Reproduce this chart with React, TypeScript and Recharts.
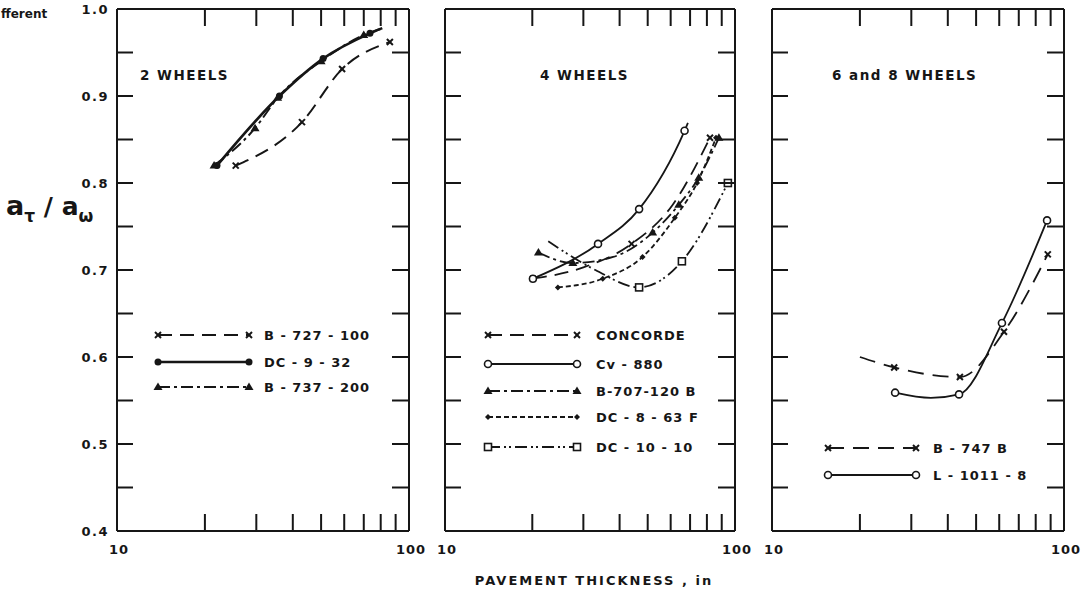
import { LineChart, Line, XAxis, YAxis } from "recharts";

const FONT = "'DejaVu Sans', Verdana, sans-serif";
const INK = "#161616";

const xTicks = [10, 20, 30, 40, 50, 60, 70, 80, 90, 100];
const yTicks = [0.4, 0.45, 0.5, 0.55, 0.6, 0.65, 0.7, 0.75, 0.8, 0.85, 0.9, 0.95, 1.0];

// 2 wheels
const b727X = [25.5, 43, 59, 86];
const b727Y = [0.82, 0.87, 0.931, 0.962];
const dc9X = [22, 36, 50.8, 73.5, 81];
const dc9Y = [0.82, 0.9, 0.943, 0.972, 0.978];
const b737X = [21.5, 29.7, 35.5, 50, 70, 80];
const b737Y = [0.82, 0.863, 0.898, 0.94, 0.97, 0.977];

// 4 wheels
const concX = [20.1, 30, 44, 61, 82];
const concY = [0.69, 0.703, 0.73, 0.775, 0.852];
const cv880X = [20.1, 33.7, 46.7, 67, 68.8];
const cv880Y = [0.69, 0.73, 0.77, 0.86, 0.869];
const b707X = [21, 27.6, 38, 52, 64, 75, 88];
const b707Y = [0.72, 0.708, 0.715, 0.743, 0.775, 0.806, 0.852];
const dc8X = [24.5, 35, 48, 62, 74, 86];
const dc8Y = [0.68, 0.69, 0.715, 0.76, 0.8, 0.852];
const dc10X = [22.7, 33, 46.7, 65.6, 94.5];
const dc10Y = [0.733, 0.7, 0.68, 0.71, 0.8];

// 6 and 8 wheels
const b747X = [20, 26.2, 44, 62.3, 88];
const b747Y = [0.6, 0.588, 0.577, 0.629, 0.718];
const l1011X = [26.4, 35, 43.7, 61.3, 87.5];
const l1011Y = [0.559, 0.553, 0.557, 0.639, 0.757];

const zip = (xs: number[], ys: number[], hide: number[] = []) =>
  xs.map((x, i) => ({ x, y: ys[i], m: !hide.includes(i) }));

type Mark = "x" | "dot" | "ocircle" | "tri" | "plus" | "osq";

function drawMark(kind: Mark, cx: number, cy: number, key?: any) {
  switch (kind) {
    case "x":
      return (
        <g key={key} stroke={INK} strokeWidth={2}>
          <line x1={cx - 3} y1={cy - 3} x2={cx + 3} y2={cy + 3} />
          <line x1={cx - 3} y1={cy + 3} x2={cx + 3} y2={cy - 3} />
        </g>
      );
    case "dot":
      return <circle key={key} cx={cx} cy={cy} r={3.5} fill={INK} />;
    case "ocircle":
      return <circle key={key} cx={cx} cy={cy} r={3.5} fill="#fff" stroke={INK} strokeWidth={1.6} />;
    case "tri":
      return <path key={key} d={`M${cx},${cy - 4.5}L${cx + 4.5},${cy + 3}L${cx - 4.5},${cy + 3}Z`} fill={INK} />;
    case "plus":
      return <path key={key} d={`M${cx},${cy - 3}L${cx + 3},${cy}L${cx},${cy + 3}L${cx - 3},${cy}Z`} fill={INK} />;
    case "osq":
      return <rect key={key} x={cx - 3.5} y={cy - 3.5} width={7} height={7} fill="#fff" stroke={INK} strokeWidth={1.6} />;
  }
}

type Series = { name: string; data: { x: number; y: number; m: boolean }[]; dash?: string; w: number; mark: Mark };

const panel1: Series[] = [
  { name: "B - 727 - 100", data: zip(b727X, b727Y), dash: "14 8", w: 2, mark: "x" },
  { name: "DC - 9 - 32", data: zip(dc9X, dc9Y, [4]), w: 2.6, mark: "dot" },
  { name: "B - 737 - 200", data: zip(b737X, b737Y, [5]), dash: "12 4 3 4", w: 2, mark: "tri" },
];

const panel2: Series[] = [
  { name: "CONCORDE", data: zip(concX, concY, [1, 3]), dash: "14 8", w: 1.8, mark: "x" },
  { name: "Cv - 880", data: zip(cv880X, cv880Y, [4]), w: 1.8, mark: "ocircle" },
  { name: "B-707-120 B", data: zip(b707X, b707Y, [2]), dash: "12 4 3 4", w: 1.8, mark: "tri" },
  { name: "DC - 8 - 63 F", data: zip(dc8X, dc8Y), dash: "5 3", w: 1.8, mark: "plus" },
  { name: "DC - 10 - 10", data: zip(dc10X, dc10Y, [0, 1]), dash: "12 4 2 3 2 4", w: 1.8, mark: "osq" },
];

const panel3: Series[] = [
  { name: "B - 747 B", data: zip(b747X, b747Y, [0]), dash: "16 9", w: 1.8, mark: "x" },
  { name: "L - 1011 - 8", data: zip(l1011X, l1011Y, [1]), w: 1.8, mark: "ocircle" },
];

const labelStyle = { fontFamily: FONT, fontWeight: 700, fill: INK } as const;

const BottomTick = (p: any) => {
  const v = p.payload.value;
  if (v === 10 || v === 100)
    return (
      <text x={p.x + 2} y={p.y + 23} textAnchor="middle" fontSize={13} letterSpacing={1} {...labelStyle}>
        {v}
      </text>
    );
  return <line x1={p.x} x2={p.x} y1={p.y} y2={p.y - 17} stroke={INK} strokeWidth={2} />;
};

const TopTick = (p: any) => {
  const v = p.payload.value;
  if (v === 10 || v === 100) return <g />;
  return <line x1={p.x} x2={p.x} y1={p.y} y2={p.y + 17} stroke={INK} strokeWidth={2} />;
};

const makeLeftTick = (labels: boolean) => (p: any) => {
  const v = p.payload.value;
  const major = Math.round(v * 100) % 10 === 0;
  const edge = v === 0.4 || v === 1.0;
  return (
    <g>
      {!edge && <line x1={p.x} x2={p.x + 16} y1={p.y} y2={p.y} stroke={INK} strokeWidth={2} />}
      {labels && major && (
        <text x={p.x - 8} y={p.y + 5} textAnchor="end" fontSize={13} letterSpacing={1.5} {...labelStyle}>
          {v.toFixed(1)}
        </text>
      )}
    </g>
  );
};

const RightTick = (p: any) => {
  const v = p.payload.value;
  if (v === 0.4 || v === 1.0) return <g />;
  return <line x1={p.x} x2={p.x - 17} y1={p.y} y2={p.y} stroke={INK} strokeWidth={2} />;
};

const frame = { stroke: INK, strokeWidth: 2 };

function Panel({ left, width, yw, mr, series, labels }: { left: number; width: number; yw: number; mr: number; series: Series[]; labels: boolean }) {
  return (
    <div style={{ position: "absolute", left, top: 0 }}>
      <LineChart width={width} height={560} margin={{ top: 8, right: mr - 1, bottom: 0, left: 0 }}>
        <XAxis dataKey="x" type="number" scale="log" domain={[10, 100]} ticks={xTicks} interval={0} allowDataOverflow height={29} tickSize={0} tickMargin={0} tickLine={false} axisLine={frame} tick={BottomTick} />
        <XAxis xAxisId="top" orientation="top" dataKey="x" type="number" scale="log" domain={[10, 100]} ticks={xTicks} interval={0} allowDataOverflow height={1} tickSize={0} tickMargin={0} tickLine={false} axisLine={frame} tick={TopTick} />
        <YAxis type="number" domain={[0.4, 1]} ticks={yTicks} interval={0} allowDataOverflow width={yw} tickSize={0} tickMargin={0} tickLine={false} axisLine={frame} tick={makeLeftTick(labels)} />
        <YAxis yAxisId="right" orientation="right" type="number" domain={[0.4, 1]} ticks={yTicks} interval={0} allowDataOverflow width={1} tickSize={0} tickMargin={0} tickLine={false} axisLine={frame} tick={RightTick} />
        {series.map((s) => (
          <Line
            key={s.name}
            data={s.data}
            dataKey="y"
            type="monotoneX"
            stroke={INK}
            strokeWidth={s.w}
            strokeDasharray={s.dash}
            isAnimationActive={false}
            activeDot={false}
            dot={(d: any) => (d.payload.m ? drawMark(s.mark, d.cx, d.cy, d.index) : <g key={d.index} />)}
          />
        ))}
      </LineChart>
    </div>
  );
}

function LegendBlock({ x1, x2, tx, ys, series }: { x1: number; x2: number; tx: number; ys: number[]; series: Series[] }) {
  return (
    <g>
      {series.map((s, i) => (
        <g key={s.name}>
          <line x1={x1} x2={x2} y1={ys[i]} y2={ys[i]} stroke={INK} strokeWidth={s.w} strokeDasharray={s.dash} />
          {drawMark(s.mark, x1, ys[i])}
          {drawMark(s.mark, x2, ys[i])}
          <text x={tx} y={ys[i] + 5} fontSize={13} letterSpacing={1} {...labelStyle}>
            {s.name}
          </text>
        </g>
      ))}
    </g>
  );
}

export default function App() {
  return (
    <div style={{ position: "absolute", left: 0, top: 0, width: 1081, height: 591, background: "#fff" }}>
      <Panel left={0} width={430} yw={117} mr={21} series={panel1} labels />
      <Panel left={430} width={330} yw={15} mr={25} series={panel2} labels={false} />
      <Panel left={760} width={321} yw={12} mr={17} series={panel3} labels={false} />
      <svg width={1081} height={591} style={{ position: "absolute", left: 0, top: 0, pointerEvents: "none" }}>
        <text x={1} y={18} fontSize={12} {...labelStyle}>fferent</text>
        <text x={140} y={80} fontSize={13.5} letterSpacing={1.5} {...labelStyle}>2 WHEELS</text>
        <text x={540} y={80} fontSize={13.5} letterSpacing={1.5} {...labelStyle}>4 WHEELS</text>
        <text x={832} y={80} fontSize={13.5} letterSpacing={1.5} {...labelStyle}>6 and 8 WHEELS</text>
        <text x={6} y={215} fontSize={27} {...labelStyle}>
          a<tspan dy={7} fontSize={17}>τ</tspan>
          <tspan dy={-7} fontSize={25}> / a</tspan>
          <tspan dy={7} fontSize={17}>ω</tspan>
        </text>
        <text x={594} y={585} textAnchor="middle" fontSize={13} letterSpacing={2} {...labelStyle}>
          PAVEMENT  THICKNESS , in
        </text>
        <LegendBlock x1={158} x2={249} tx={264} ys={[335, 362, 387]} series={panel1} />
        <LegendBlock x1={488} x2={577} tx={596} ys={[335, 364, 391, 417, 447]} series={panel2} />
        <LegendBlock x1={828} x2={916} tx={933} ys={[448, 475]} series={panel3} />
      </svg>
    </div>
  );
}
